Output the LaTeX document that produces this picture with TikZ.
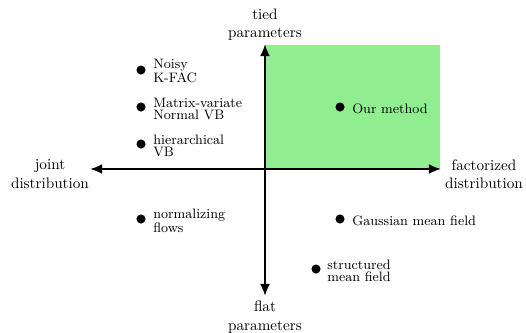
\documentclass[tikz,border=0pt]{standalone}
\usetikzlibrary{arrows.meta}
\definecolor{qgreen}{RGB}{144,238,144}
\begin{document}
\begin{tikzpicture}[x=0.6578pt,y=-0.6578pt,
  axis/.style={line width=1.2pt,-{Latex[length=8pt,width=6.5pt]}},
  dot/.style={circle,fill=black,inner sep=0pt,minimum size=6pt},
  lbl/.style={anchor=west,align=left,inner sep=0pt,font=\fontsize{9}{7.8}\selectfont},
  axlbl/.style={align=center,inner sep=0pt,font=\fontsize{10}{12}\selectfont}]
\useasboundingbox (0,0) rectangle (526,332);
\fill[qgreen] (265,45) rectangle (440,169);
\coordinate (O) at (265,169);
\coordinate (L) at (90,169);
\coordinate (R) at (441,169);
\coordinate (T) at (265,44);
\coordinate (B) at (265,296);
\draw[axis] (O) -- (L);
\draw[axis] (O) -- (R);
\draw[axis] (O) -- (T);
\draw[axis] (O) -- (B);
\node[axlbl] (tied) at (265,25) {tied\\parameters};
\node[axlbl] (flat) at (265,317) {flat\\parameters};
\node[axlbl] (joint) at (50,174) {joint\\distribution};
\node[axlbl] (fact) at (484,174) {factorized\\distribution};
\node[dot] (d1) at (141,70) {};
\node[lbl] (t1) at (153,71) {Noisy\\K-FAC};
\node[dot] (d2) at (141,107) {};
\node[lbl] (t2) at (153,109) {Matrix-variate\\Normal VB};
\node[dot] (d3) at (141,144) {};
\node[lbl] (t3) at (153,146) {hierarchical\\VB};
\node[dot] (d4) at (141,219) {};
\node[lbl] (t4) at (153,221) {normalizing\\flows};
\node[dot] (d5) at (340,107) {};
\node[lbl] (t5) at (352,109) {Our method};
\node[dot] (d6) at (340,219) {};
\node[lbl] (t6) at (352,221) {Gaussian mean field};
\node[dot] (d7) at (316,269) {};
\node[lbl] (t7) at (327,271) {structured\\mean field};
\end{tikzpicture}
\end{document}
